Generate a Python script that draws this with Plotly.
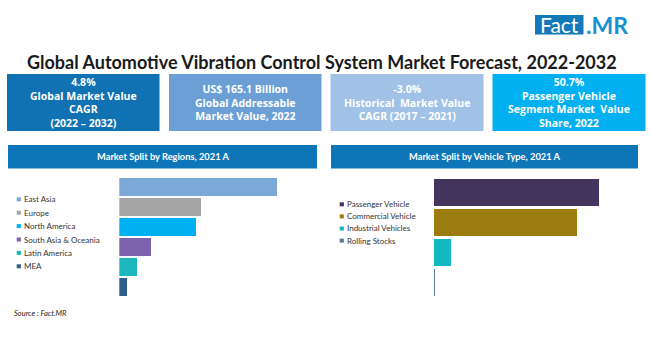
import plotly.graph_objects as go

W, H = 650, 350

# ---------------- data ----------------
title = "Global Automotive Vibration Control System Market Forecast, 2022-2032"

kpi_lines = [
    ["4.8%", "Global Market Value", "CAGR", "(2022 – 2032)"],
    ["US$ 165.1 Billion", "Global Addressable", "Market Value, 2022"],
    ["-3.0%", "Historical  Market Value", "CAGR (2017 – 2021)"],
    ["50.7%", "Passenger Vehicle", "Segment Market  Value", "Share, 2022"],
]
kpi_colors = ["#1071b3", "#6c9fd5", "#9fc2e6", "#00b0f0"]

region_title = "Market Split by Regions, 2021 A"
regions = ["East Asia", "Europe", "North America", "South Asia & Oceania", "Latin America", "MEA"]
region_share = [42.2, 21.8, 20.5, 8.4, 4.9, 2.2]
region_colors = ["#7ba7d7", "#a5a5a5", "#00b0f0", "#7d63ad", "#1ab7bd", "#2f5f8e"]

vehicle_title = "Market Split by Vehicle Type, 2021 A"
vehicles = ["Passenger Vehicle", "Commercial Vehicle", "Industrial Vehicles", "Rolling Stocks"]
vehicle_share = [50.7, 44.0, 5.1, 0.3]
vehicle_colors = ["#44355f", "#9c7c0f", "#12b9c1", "#5a7a9a"]

source = "Source : Fact.MR"

FONT = "Lato"


def px(x):
    return x / W


def py(y):
    return 1 - y / H


fig = go.Figure()

# ---------------- bars ----------------
fig.add_trace(go.Bar(
    y=regions, x=region_share, orientation="h",
    marker=dict(color=region_colors, line=dict(width=0)),
    width=0.87, xaxis="x", yaxis="y", showlegend=False, hoverinfo="x+y",
))
fig.add_trace(go.Bar(
    y=vehicles, x=vehicle_share, orientation="h",
    marker=dict(color=vehicle_colors, line=dict(width=0)),
    width=0.9, xaxis="x2", yaxis="y2", showlegend=False, hoverinfo="x+y",
))

hidden = dict(showgrid=False, zeroline=False, showticklabels=False, showline=False, ticks="")

shapes = []
annotations = []

# title
annotations.append(dict(x=px(322), y=py(62), xref="paper", yref="paper", text="<b>" + title + "</b>",
                        showarrow=False, xanchor="center", yanchor="middle",
                        font=dict(family=FONT, size=18, color="#1a1a1a")))

# logo
shapes.append(dict(type="rect", xref="paper", yref="paper", x0=px(535), x1=px(583.5), y0=py(34.5), y1=py(15),
                   fillcolor="#1479b8", line=dict(width=0), layer="below"))
annotations.append(dict(x=px(559), y=py(25), xref="paper", yref="paper", text="Fact", showarrow=False,
                        xanchor="center", yanchor="middle", font=dict(family=FONT, size=21, color="white")))
annotations.append(dict(x=px(584), y=py(25), xref="paper", yref="paper", text="<b>.MR</b>", showarrow=False,
                        xanchor="left", yanchor="middle", font=dict(family=FONT, size=23, color="#1a90d2")))

# KPI boxes
box_x = [(7, 159.5), (169, 321.5), (330.5, 483.5), (492.5, 645.5)]
for (x0, x1), col, lines in zip(box_x, kpi_colors, kpi_lines):
    shapes.append(dict(type="rect", xref="paper", yref="paper", x0=px(x0), x1=px(x1), y0=py(131), y1=py(74),
                       fillcolor=col, line=dict(width=0), layer="below"))
    annotations.append(dict(x=px((x0 + x1) / 2), y=py(102.5), xref="paper", yref="paper",
                            text="<b>" + "<br>".join(lines) + "</b>", showarrow=False,
                            xanchor="center", yanchor="middle", align="center",
                            font=dict(family="Open Sans", size=10.5, color="white")))

# panel headers
for (x0, x1), t in [((8, 317), region_title), ((331, 638), vehicle_title)]:
    shapes.append(dict(type="rect", xref="paper", yref="paper", x0=px(x0), x1=px(x1), y0=py(168.5), y1=py(145),
                       fillcolor="#0e76b8", line=dict(width=0), layer="below"))
    annotations.append(dict(x=px((x0 + x1) / 2), y=py(156.7), xref="paper", yref="paper", text="<b>" + t + "</b>",
                            showarrow=False, xanchor="center", yanchor="middle",
                            font=dict(family=FONT, size=9.3, color="white")))

# custom legends
for names, cols, mx, tx, y0, step in [(regions, region_colors, 16.7, 23, 199.3, 13.4),
                                      (vehicles, vehicle_colors, 339.7, 346, 204.3, 12.1)]:
    for i, (nm, c) in enumerate(zip(names, cols)):
        yy = y0 + i * step
        shapes.append(dict(type="rect", xref="paper", yref="paper", x0=px(mx), x1=px(mx + 4.2),
                           y0=py(yy + 2), y1=py(yy - 2), fillcolor=c, line=dict(width=0)))
        annotations.append(dict(x=px(tx), y=py(yy), xref="paper", yref="paper", text=nm, showarrow=False,
                                xanchor="left", yanchor="middle", borderpad=0,
                                font=dict(family=FONT, size=8, color="#333333")))

# source
annotations.append(dict(x=px(12), y=py(313), xref="paper", yref="paper", text="<i>" + source + "</i>",
                        showarrow=False, xanchor="left", yanchor="middle",
                        font=dict(family=FONT, size=7.5, color="#222222")))

fig.update_layout(
    width=W, height=H, margin=dict(l=0, r=0, t=0, b=0),
    paper_bgcolor="white", plot_bgcolor="rgba(0,0,0,0)",
    xaxis=dict(domain=[px(119.3), px(119.3 + 50 * 3.754)], range=[0, 50], **hidden),
    yaxis=dict(domain=[py(297), py(177)], range=[len(regions) - 0.5, -0.5], type="category", **hidden),
    xaxis2=dict(domain=[px(434), px(434 + 60 * 3.254)], range=[0, 60], anchor="y2", **hidden),
    yaxis2=dict(domain=[py(297.4), py(176.6)], range=[len(vehicles) - 0.5, -0.5], type="category",
                anchor="x2", **hidden),
    shapes=shapes, annotations=annotations, bargap=0, showlegend=False,
)

fig.write_html("out.html")
